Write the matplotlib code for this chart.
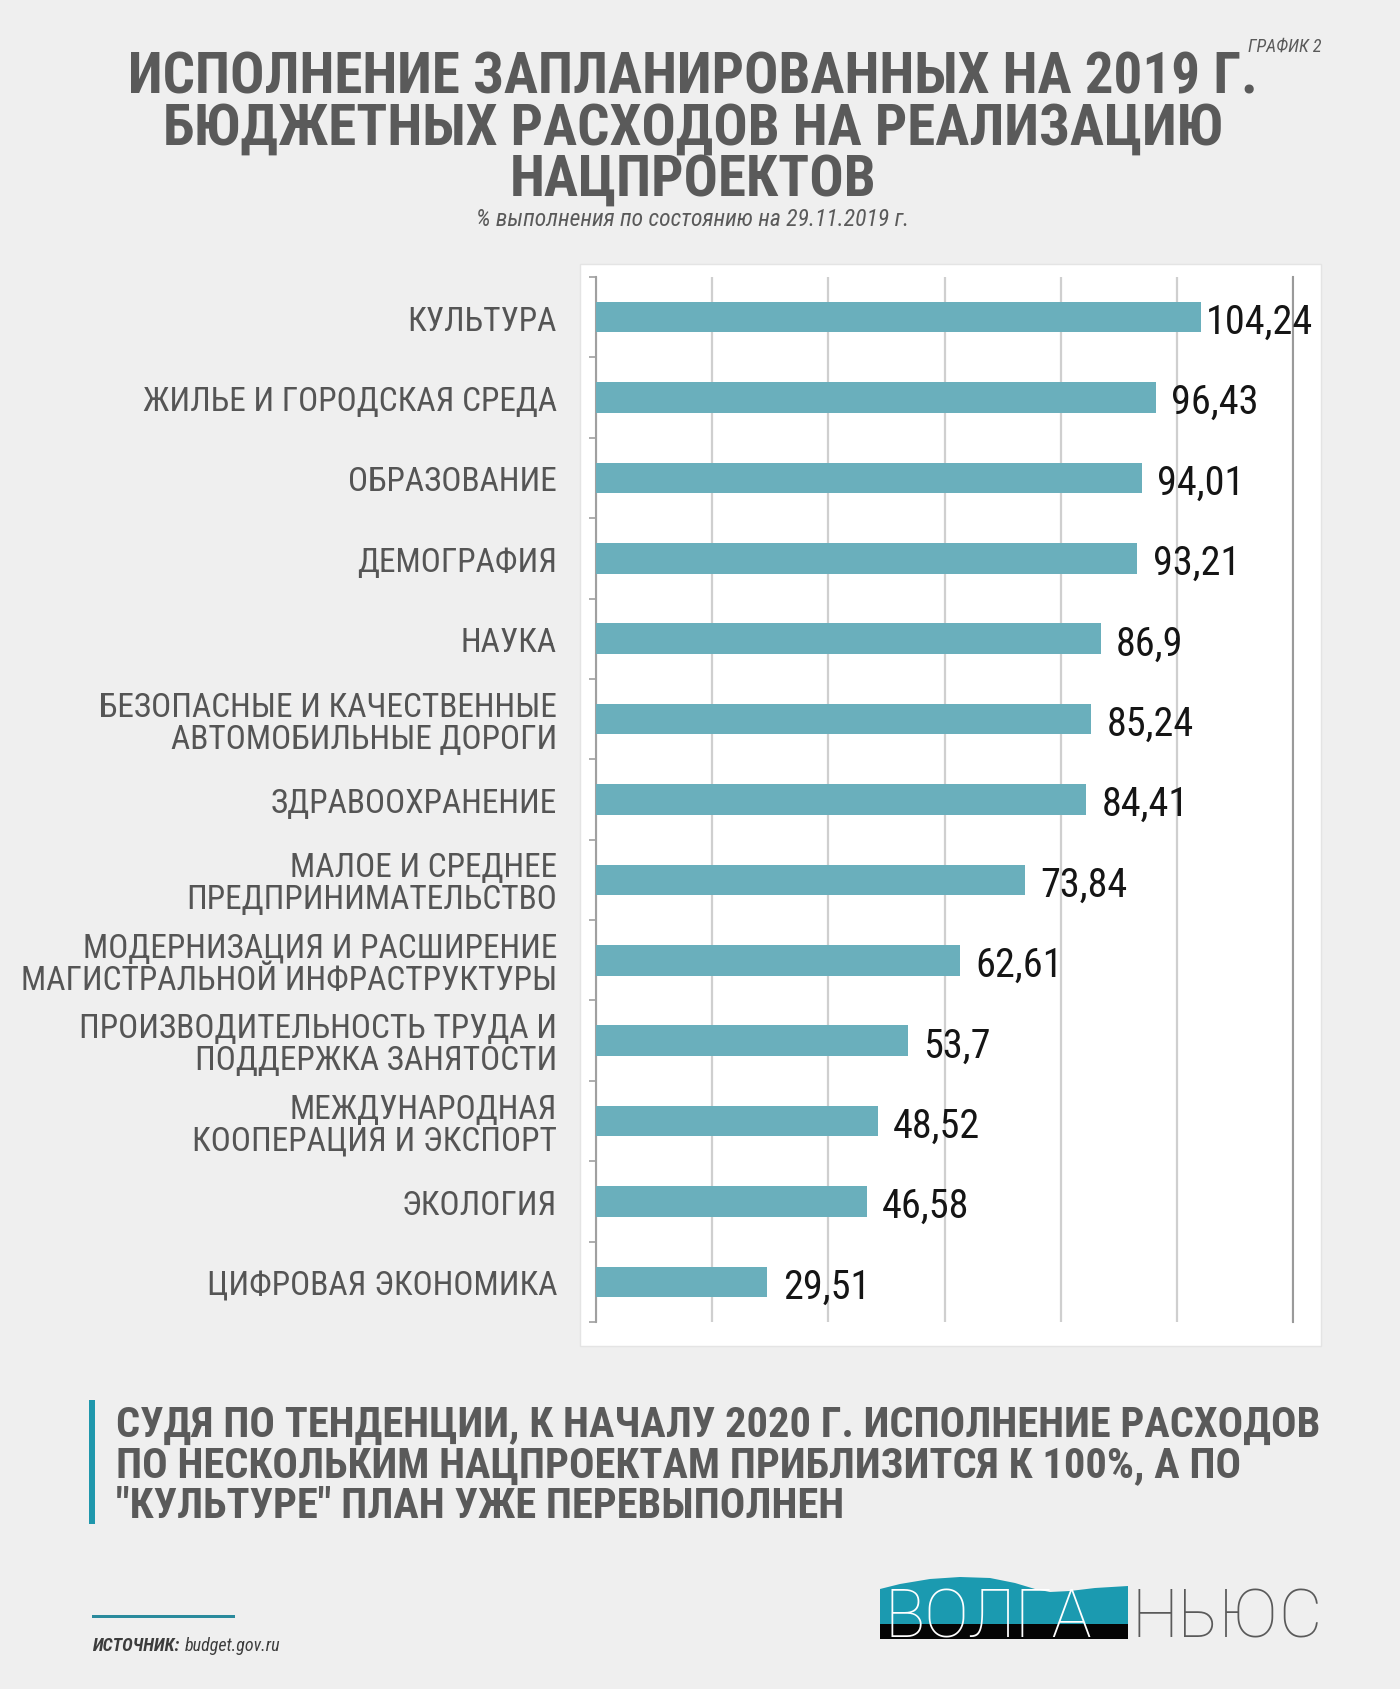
import matplotlib
matplotlib.use("Agg")

import matplotlib.pyplot as plt
from matplotlib import font_manager
from matplotlib.patches import Rectangle, Polygon
import numpy as np

categories = [
    "КУЛЬТУРА",
    "ЖИЛЬЕ И ГОРОДСКАЯ СРЕДА",
    "ОБРАЗОВАНИЕ",
    "ДЕМОГРАФИЯ",
    "НАУКА",
    "БЕЗОПАСНЫЕ И КАЧЕСТВЕННЫЕ\nАВТОМОБИЛЬНЫЕ ДОРОГИ",
    "ЗДРАВООХРАНЕНИЕ",
    "МАЛОЕ И СРЕДНЕЕ\nПРЕДПРИНИМАТЕЛЬСТВО",
    "МОДЕРНИЗАЦИЯ И РАСШИРЕНИЕ\nМАГИСТРАЛЬНОЙ ИНФРАСТРУКТУРЫ",
    "ПРОИЗВОДИТЕЛЬНОСТЬ ТРУДА И\nПОДДЕРЖКА ЗАНЯТОСТИ",
    "МЕЖДУНАРОДНАЯ\nКООПЕРАЦИЯ И ЭКСПОРТ",
    "ЭКОЛОГИЯ",
    "ЦИФРОВАЯ ЭКОНОМИКА",
]
values = [104.24, 96.43, 94.01, 93.21, 86.9, 85.24, 84.41, 73.84, 62.61, 53.7, 48.52, 46.58, 29.51]

title_lines = [
    "ИСПОЛНЕНИЕ ЗАПЛАНИРОВАННЫХ НА 2019 Г.",
    "БЮДЖЕТНЫХ РАСХОДОВ НА РЕАЛИЗАЦИЮ",
    "НАЦПРОЕКТОВ",
]
subtitle = "% выполнения по состоянию на 29.11.2019 г."
note_lines = [
    "СУДЯ ПО ТЕНДЕНЦИИ, К НАЧАЛУ 2020 Г. ИСПОЛНЕНИЕ РАСХОДОВ",
    "ПО НЕСКОЛЬКИМ НАЦПРОЕКТАМ ПРИБЛИЗИТСЯ К 100%, А ПО",
    "\"КУЛЬТУРЕ\" ПЛАН УЖЕ ПЕРЕВЫПОЛНЕН",
]

BG = "#efefef"
BAR = "#6aafbc"
TEAL = "#1f97ac"
GREY = "#5a5a5a"

W, H = 1400, 1690

names = {f.name for f in font_manager.fontManager.ttflist}
narrow = "Roboto Condensed" if "Roboto Condensed" in names else "Liberation Sans"
scale = 1.0 if narrow == "Roboto Condensed" else 0.86

plt.rcParams["font.family"] = [narrow, "DejaVu Sans"]


def fx(px):
    return px / W


def fy(py):
    return 1 - py / H


fig = plt.figure(figsize=(14, 16.9), dpi=100, facecolor=BG)

# white panel behind the chart
fig.patches.append(Rectangle((fx(580), fy(1347)), fx(1321) - fx(580), fy(265) - fy(1347),
                             transform=fig.transFigure, facecolor="white",
                             edgecolor="#e4e4e4", lw=1, zorder=-1))

ax = fig.add_axes([fx(596), fy(1323), fx(1293) - fx(596), fy(278) - fy(1323)])
ax.set_facecolor("none")

y = np.arange(len(categories))
ax.barh(y, values, height=0.38, color=BAR, zorder=3)

ax.set_xlim(0, 120)
ax.set_ylim(len(categories) - 0.5, -0.5)
ax.set_xticks(np.arange(0, 121, 20))
ax.xaxis.grid(True, color="#cfcfcf", lw=1.6, zorder=0)
ax.tick_params(axis="x", length=0, labelbottom=False)

ax.set_yticks(y)
ax.set_yticklabels(categories, fontsize=24 * scale, color="#555555")
for lab in ax.get_yticklabels():
    lab.set_linespacing(1.0)
ax.set_yticks(np.arange(-0.5, len(categories), 1), minor=True)
ax.tick_params(axis="y", which="major", length=0, pad=28)
ax.tick_params(axis="y", which="minor", length=5, width=1.2, color="#a0a0a0")

for s in ["top", "bottom"]:
    ax.spines[s].set_visible(False)
ax.spines["left"].set_color("#a0a0a0")
ax.spines["left"].set_linewidth(1.5)
ax.spines["right"].set_color("#9a9a9a")
ax.spines["right"].set_linewidth(1.5)

value_labels = []
for i, v in enumerate(values):
    t = ax.annotate(f"{v:g}".replace(".", ","), (v, i), xytext=(11, -3),
                    textcoords="offset points", va="center", ha="left",
                    fontsize=29 * scale, color="#151515", zorder=4)
    value_labels.append(t)

# header
fig.text(fx(1321), fy(47), "ГРАФИК 2", ha="right", va="center",
         fontsize=13 * scale, style="italic", color=GREY)
fig.text(fx(693), fy(129), "\n".join(title_lines), ha="center", va="center",
         fontsize=41 * scale, fontweight="bold", color=GREY, linespacing=0.91)
fig.text(fx(693), fy(220), subtitle, ha="center", va="center",
         fontsize=17 * scale, style="italic", color=GREY)

# conclusion block
fig.patches.append(Rectangle((fx(89), fy(1525)), fx(6), fy(1401) - fy(1525),
                             transform=fig.transFigure, facecolor=TEAL, lw=0))
for line, py in zip(note_lines, [1425, 1466, 1507]):
    fig.text(fx(116), fy(py), line, ha="left", va="center",
             fontsize=30.5 * scale, fontweight="bold", color=GREY)

# source
fig.patches.append(Rectangle((fx(92), fy(1619)), fx(235) - fx(92), fy(1616) - fy(1619),
                             transform=fig.transFigure, facecolor="#2a8a9c", lw=0))
t1 = fig.text(fx(92), fy(1646), "ИСТОЧНИК:", ha="left", va="center",
              fontsize=13 * scale, style="italic", fontweight="bold", color="#3c3c3c")
fig.canvas.draw()
renderer = fig.canvas.get_renderer()
bb = t1.get_window_extent(renderer)
fig.text((bb.x1 + 5) / W, fy(1646), "budget.gov.ru", ha="left", va="center",
         fontsize=13 * scale, style="italic", color="#3c3c3c")

# keep value labels inside the white panel
for t in value_labels:
    over = t.get_window_extent(renderer).x1 - 1313
    if over > 0:
        dx, dy = t.xyann
        t.xyann = (dx - over * 72 / 100, dy)

# logo
lax = fig.add_axes([fx(876), fy(1646), fx(1324) - fx(876), fy(1572) - fy(1646)])
lax.set_xlim(876, 1324)
lax.set_ylim(1646, 1572)
lax.axis("off")
wave = [(880, 1590), (900, 1585), (930, 1580), (960, 1578), (990, 1579),
        (1015, 1584), (1035, 1590), (1050, 1593), (1070, 1592), (1095, 1589),
        (1128, 1587), (1128, 1626), (880, 1626)]
lax.add_patch(Polygon(wave, closed=True, facecolor="#1b9ab0", lw=0))
lax.add_patch(Rectangle((880, 1625), 248, 15, facecolor="#050505", lw=0))
lax.text(885, 1638, "ВОЛГА", fontsize=48, color="white", va="baseline",
         ha="left", family=["Roboto", "Liberation Sans"], fontweight="light")
lax.text(1131, 1638, "НЬЮС", fontsize=48, color="#5a5a5a", va="baseline",
         ha="left", family=["Roboto", "Liberation Sans"], fontweight="light")

fig.savefig("out.png", dpi=100, facecolor=BG)
